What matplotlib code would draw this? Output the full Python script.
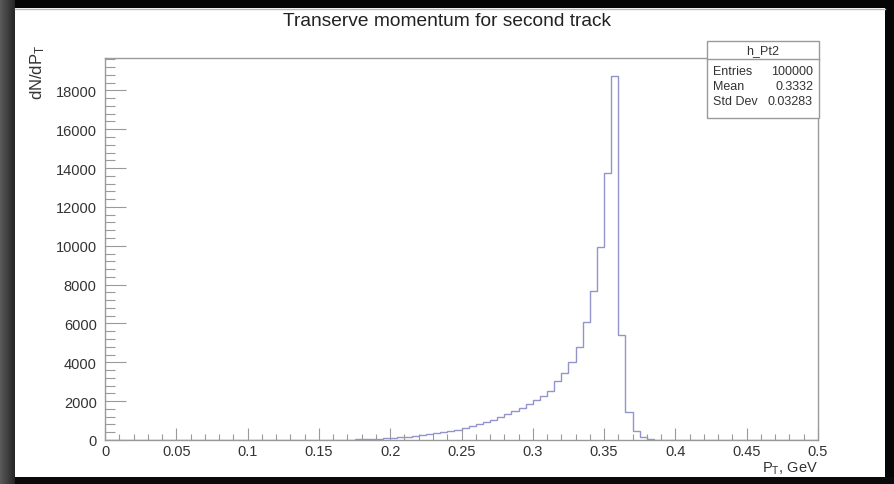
import numpy as np
import matplotlib
matplotlib.use("Agg")
import matplotlib.pyplot as plt
from matplotlib.patches import Rectangle
from matplotlib.lines import Line2D

plt.rcParams['font.family'] = ['Liberation Sans', 'DejaVu Sans']
plt.rcParams['mathtext.fontset'] = 'custom'
plt.rcParams['mathtext.rm'] = 'Liberation Sans'
plt.rcParams['mathtext.it'] = 'Liberation Sans'

# ---- histogram h_Pt2: 100 bins on [0, 0.5) ----
x_min, x_max, n_bins = 0.0, 0.5, 100
first_filled_bin = 30  # bin starting at 0.150
filled_counts = [
    3, 6, 11, 17, 24, 32, 42, 55, 70, 90,            # 0.150 - 0.195
    110, 135, 165, 200, 240, 290, 340, 400, 470, 540,  # 0.200 - 0.245
    620, 710, 810, 920, 1040, 1170, 1320, 1480, 1650, 1850,  # 0.250 - 0.295
    2050, 2280, 2540, 3020, 3450, 4000, 4770, 6100, 7650, 9920,  # 0.300 - 0.345
    13770, 18730, 5410, 1460, 480, 150, 60, 20, 5,     # 0.350 - 0.390
]

title = "Transerve momentum for second track"
hist_name = "h_Pt2"
stat_labels = ["Entries", "Mean", "Std Dev"]
stat_values = ["100000", "0.3332", "0.03283"]
x_label = r"P$_\mathregular{T}$, GeV"
y_label = r"dN/dP$_\mathregular{T}$"

counts = np.zeros(n_bins)
counts[first_filled_bin:first_filled_bin + len(filled_counts)] = filled_counts
edges = np.linspace(x_min, x_max, n_bins + 1)

W, H = 894, 485
fig = plt.figure(figsize=(W / 100, H / 100), dpi=100)
fig.patch.set_facecolor('white')

def px_rect(x0, y0, x1, y1, **kw):
    """Rectangle in figure pixel coordinates (origin top-left)."""
    r = Rectangle((x0 / W, 1 - y1 / H), (x1 - x0) / W, (y1 - y0) / H,
                  transform=fig.transFigure, **kw)
    fig.add_artist(r)
    return r

# window surroundings
px_rect(0, 0, W, 9, facecolor='#050505', edgecolor='none', zorder=0)
px_rect(885, 0, W, H, facecolor='#050505', edgecolor='none', zorder=0)
px_rect(0, 478, W, H, facecolor='#0a0a0a', edgecolor='none', zorder=0)
grad_ax = fig.add_axes([0, 0, 15 / W, 1])
grad = np.linspace(0.35, 0.15, 15)[None, :] * np.ones((50, 1))
grad_ax.imshow(grad, cmap='gray', vmin=0, vmax=1, aspect='auto')
grad_ax.set_axis_off()
fig.add_artist(Line2D([15 / W, 885 / W], [1 - 9.5 / H, 1 - 9.5 / H],
                      transform=fig.transFigure, color='#bbbbbb', lw=1))

ax = fig.add_axes([105 / W, 1 - 441 / H, (818 - 105) / W, (441 - 59) / H])
ax.set_facecolor('white')
ax.stairs(counts, edges, color='#9494cc', lw=1.0)
ax.set_xlim(x_min, x_max)
ax.set_ylim(0, 1.05 * counts.max())

for s in ['top', 'right', 'left', 'bottom']:
    ax.spines[s].set_color('#9a9a9a')
    ax.spines[s].set_linewidth(1.0)

ax.set_xticks(np.arange(0, 0.501, 0.05))
ax.set_xticks(np.arange(0, 0.501, 0.01), minor=True)
ax.set_xticklabels([f"{v:g}" for v in np.arange(0, 0.501, 0.05)])
ax.set_yticks(np.arange(0, 18001, 2000))
ax.set_yticks(np.arange(0, 19601, 400), minor=True)

ax.tick_params(axis='x', which='major', direction='in', length=8.3, width=0.8,
               color='#9a9a9a', labelsize=10.5, labelcolor='#333333', pad=3)
ax.tick_params(axis='x', which='minor', direction='in', length=4.2, width=0.8,
               color='#9a9a9a')
ax.tick_params(axis='y', which='major', direction='in', length=15, width=0.8,
               color='#9a9a9a', labelsize=10.5, labelcolor='#333333', pad=6)
ax.tick_params(axis='y', which='minor', direction='in', length=7.5, width=0.8,
               color='#9a9a9a')

ax.text(1.0, -0.072, x_label, transform=ax.transAxes, ha='right', va='center',
        fontsize=10.5, color='#333333')
fig.text(38 / W, 1 - 45 / H, y_label, rotation=90, ha='center', va='top',
         fontsize=12, color='#333333')
fig.text(0.5, 1 - 22 / H, title, ha='center', va='center', fontsize=13.8,
         color='#222222')

# statistics box
bx0, by0, bx1, by1, bhead = 707, 42, 819, 119, 60
px_rect(bx0, by0, bx1, by1, facecolor='white', edgecolor='#9a9a9a', lw=1.0, zorder=5)
fig.add_artist(Line2D([bx0 / W, bx1 / W], [1 - bhead / H, 1 - bhead / H],
                      transform=fig.transFigure, color='#9a9a9a', lw=1.0, zorder=6))
fig.text((bx0 + bx1) / 2 / W, 1 - 51 / H, hist_name, ha='center', va='center',
         fontsize=9, color='#333333', zorder=7)
for i, (lab, val) in enumerate(zip(stat_labels, stat_values)):
    yy = 1 - (72 + 15 * i) / H
    fig.text((bx0 + 6) / W, yy, lab, ha='left', va='center', fontsize=9,
             color='#333333', zorder=7)
    fig.text((bx1 - 6) / W, yy, val, ha='right', va='center', fontsize=9,
             color='#333333', zorder=7)

fig.savefig('out.png', dpi=100)
